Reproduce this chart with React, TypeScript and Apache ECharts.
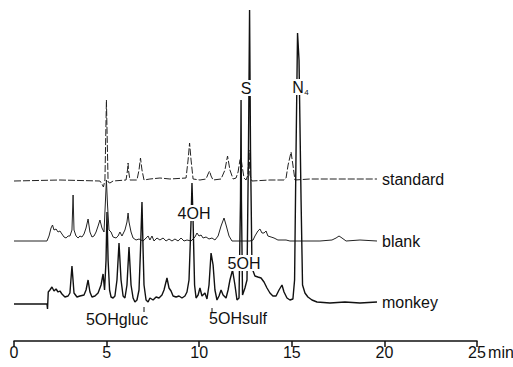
import React, { useEffect, useRef } from "react";
import * as echarts from "echarts";

// retention time (min), detector response (arbitrary units, offset traces)
const standardTrace: [number, number][] = [
  [0, 160], [2.48, 161], [4.64, 160], [4.75, 157], [4.83, 154], [4.91, 161], [4.99, 241], [5.08, 159],
  [5.18, 158], [5.35, 160], [6.05, 161], [6.13, 171], [6.16, 178], [6.18, 171], [6.26, 161], [6.64, 161],
  [6.75, 171], [6.83, 183], [6.91, 171], [7.02, 161], [7.34, 162], [7.88, 163], [8.42, 162], [9.29, 163],
  [9.4, 181], [9.48, 198], [9.56, 181], [9.67, 162], [10.04, 161], [10.37, 162], [10.48, 167], [10.56, 170],
  [10.64, 165], [10.75, 161], [11.18, 162], [11.39, 171], [11.53, 185], [11.66, 171], [11.83, 162],
  [11.99, 163], [12.1, 169], [12.2, 181], [12.26, 183], [12.31, 176], [12.42, 163], [12.53, 161],
  [12.63, 166], [12.69, 191], [12.74, 166], [12.85, 160], [13.82, 161], [14.58, 161], [14.69, 163],
  [14.8, 176], [14.96, 189], [15.06, 176], [15.17, 161], [15.98, 162], [18.14, 162], [19.6, 162],
];

const blankTrace: [number, number][] = [
  [0, 100], [1.78, 100], [1.89, 105], [2.0, 113], [2.08, 116], [2.16, 111], [2.27, 112], [2.38, 109],
  [2.48, 110], [2.59, 107], [2.7, 104], [2.81, 103], [2.92, 105], [3.02, 105], [3.13, 111], [3.19, 146],
  [3.24, 111], [3.35, 105], [3.46, 103], [3.56, 105], [3.67, 104], [3.78, 107], [3.89, 113], [4.0, 122],
  [4.1, 109], [4.21, 104], [4.32, 105], [4.43, 109], [4.54, 115], [4.64, 121], [4.75, 113], [4.86, 109],
  [4.94, 141], [4.99, 161], [5.05, 136], [5.13, 111], [5.24, 109], [5.35, 104], [5.51, 103], [5.62, 105],
  [5.72, 109], [5.83, 105], [5.99, 111], [6.1, 119], [6.16, 128], [6.21, 119], [6.32, 109], [6.43, 103],
  [6.59, 101], [6.75, 102], [6.97, 100], [7.13, 103], [7.24, 105], [7.34, 101], [7.45, 105], [7.56, 100],
  [7.72, 103], [7.88, 101], [8.05, 103], [8.21, 100], [8.37, 102], [8.53, 100], [8.69, 102], [8.86, 100],
  [9.02, 103], [9.18, 100], [9.34, 101], [9.56, 100], [9.77, 104], [9.88, 108], [9.99, 105], [10.1, 106],
  [10.21, 103], [10.37, 104], [10.53, 102], [10.69, 103], [10.85, 101], [11.02, 105], [11.18, 115],
  [11.34, 123], [11.45, 116], [11.61, 105], [11.77, 100], [12.74, 100], [12.91, 101], [13.01, 105],
  [13.17, 110], [13.28, 112], [13.39, 108], [13.5, 108], [13.61, 110], [13.71, 105], [13.88, 104],
  [14.04, 103], [14.25, 101], [14.69, 101], [14.9, 100], [16.52, 100], [17.17, 101], [17.39, 103],
  [17.55, 105], [17.71, 103], [17.93, 100], [18.68, 101], [19.6, 100],
];

const monkeyTrace: [number, number][] = [
  [0, 37], [1.78, 37], [1.81, 32], [1.85, 49], [1.94, 51], [2.05, 54], [2.16, 50], [2.27, 52], [2.38, 49],
  [2.48, 50], [2.59, 47], [2.75, 44], [2.92, 45], [3.02, 48], [3.13, 75], [3.24, 48], [3.4, 44], [3.56, 45],
  [3.78, 46], [3.89, 51], [4.0, 61], [4.1, 49], [4.21, 44], [4.37, 45], [4.54, 48], [4.7, 56], [4.81, 67],
  [4.89, 51], [4.97, 81], [5.02, 129], [5.08, 81], [5.16, 51], [5.24, 44], [5.35, 43], [5.45, 45],
  [5.56, 61], [5.67, 98], [5.78, 61], [5.89, 45], [5.99, 43], [6.1, 56], [6.21, 94], [6.32, 56], [6.43, 43],
  [6.53, 39], [6.64, 41], [6.75, 51], [6.83, 91], [6.91, 139], [6.97, 91], [7.02, 56], [7.13, 41],
  [7.24, 39], [7.34, 43], [7.51, 41], [7.67, 44], [7.83, 43], [7.99, 46], [8.1, 51], [8.26, 63], [8.37, 53],
  [8.48, 50], [8.59, 45], [8.75, 44], [8.91, 45], [9.07, 43], [9.23, 45], [9.34, 49], [9.45, 61],
  [9.56, 120], [9.61, 158], [9.67, 120], [9.75, 56], [9.83, 43], [9.94, 46], [10.04, 53], [10.15, 45],
  [10.31, 48], [10.42, 42], [10.53, 56], [10.64, 88], [10.75, 76], [10.85, 51], [10.96, 41], [11.07, 45],
  [11.18, 51], [11.29, 46], [11.45, 43], [11.56, 51], [11.66, 61], [11.8, 71], [11.93, 56], [12.04, 41],
  [12.15, 43], [12.23, 141], [12.26, 241], [12.28, 141], [12.34, 46], [12.47, 53], [12.58, 61],
  [12.66, 191], [12.72, 331], [12.77, 191], [12.85, 73], [13.01, 65], [13.17, 64], [13.34, 63],
  [13.5, 59], [13.66, 53], [13.82, 48], [13.98, 45], [14.15, 45], [14.31, 51], [14.47, 56], [14.58, 49],
  [14.74, 43], [14.9, 41], [15.06, 42], [15.15, 61], [15.23, 191], [15.31, 308], [15.39, 281],
  [15.5, 141], [15.58, 56], [15.71, 48], [15.87, 44], [16.09, 41], [16.36, 39], [17.06, 38], [17.87, 39],
  [18.68, 38], [19.6, 39],
];

const traceNames = ["standard", "blank", "monkey"];
const timeTicks = [0, 5, 10, 15, 20, 25];

const FONT = "'Liberation Sans', Arial, Helvetica, sans-serif";

export default function App() {
  const ref = useRef<HTMLDivElement>(null);
  useEffect(() => {
    if (!ref.current) return;
    const chart = echarts.init(ref.current, undefined, { renderer: "svg" });
    const endLabel = {
      show: true,
      formatter: "{a}",
      distance: 5,
      color: "#111",
      fontSize: 16,
      fontFamily: FONT,
    };
    const txt = (text: string, x: number, y: number, size = 16, bg = true) => ({
      type: "text",
      x,
      y,
      z: 100,
      style: {
        text,
        fill: "#111",
        font: `${size}px ${FONT}`,
        textAlign: "center",
        textVerticalAlign: "middle",
        backgroundColor: bg ? "#fff" : undefined,
        padding: bg ? [0, 1] : 0,
      },
    });
    chart.setOption({
      animation: false,
      backgroundColor: "#fff",
      grid: { left: 14, right: 36, top: 1, bottom: 26, containLabel: false },
      xAxis: {
        type: "value",
        min: 0,
        max: 25,
        interval: 5,
        splitLine: { show: false },
        axisLine: { lineStyle: { color: "#111", width: 1.5 } },
        axisTick: { show: true, length: 6, lineStyle: { color: "#111", width: 1.5 } },
        axisLabel: {
          color: "#111",
          fontSize: 16,
          fontFamily: FONT,
          margin: 3,
          formatter: (v: number) => (timeTicks.includes(v) ? String(v) : ""),
        },
      },
      yAxis: { type: "value", min: 0, max: 340, show: false },
      series: [
        {
          name: traceNames[0],
          type: "line",
          data: standardTrace,
          showSymbol: false,
          lineStyle: { color: "#222", width: 1, type: [7, 2] },
          endLabel,
        },
        {
          name: traceNames[1],
          type: "line",
          data: blankTrace,
          showSymbol: false,
          lineStyle: { color: "#222", width: 1 },
          endLabel,
        },
        {
          name: traceNames[2],
          type: "line",
          data: monkeyTrace,
          showSymbol: false,
          lineStyle: { color: "#111", width: 1.4 },
          endLabel,
        },
      ],
      graphic: [
        txt("S", 246, 88),
        txt("N", 298, 87),
        txt("4", 306.5, 92, 8, false),
        txt("4OH", 194, 213),
        txt("5OH", 244, 263),
        txt("5OHgluc", 117, 319, 16, false),
        txt("5OHsulf", 238, 318, 16, false),
        txt("min", 501, 352, 16, false),
        { type: "line", z: 100, shape: { x1: 144, y1: 307, x2: 144, y2: 312 }, style: { stroke: "#111", lineWidth: 1 } },
        { type: "line", z: 100, shape: { x1: 212, y1: 308, x2: 212, y2: 313 }, style: { stroke: "#111", lineWidth: 1 } },
      ],
    });
    return () => chart.dispose();
  }, []);
  return (
    <div
      ref={ref}
      style={{ position: "absolute", left: 0, top: 0, width: 513, height: 367 }}
    />
  );
}
